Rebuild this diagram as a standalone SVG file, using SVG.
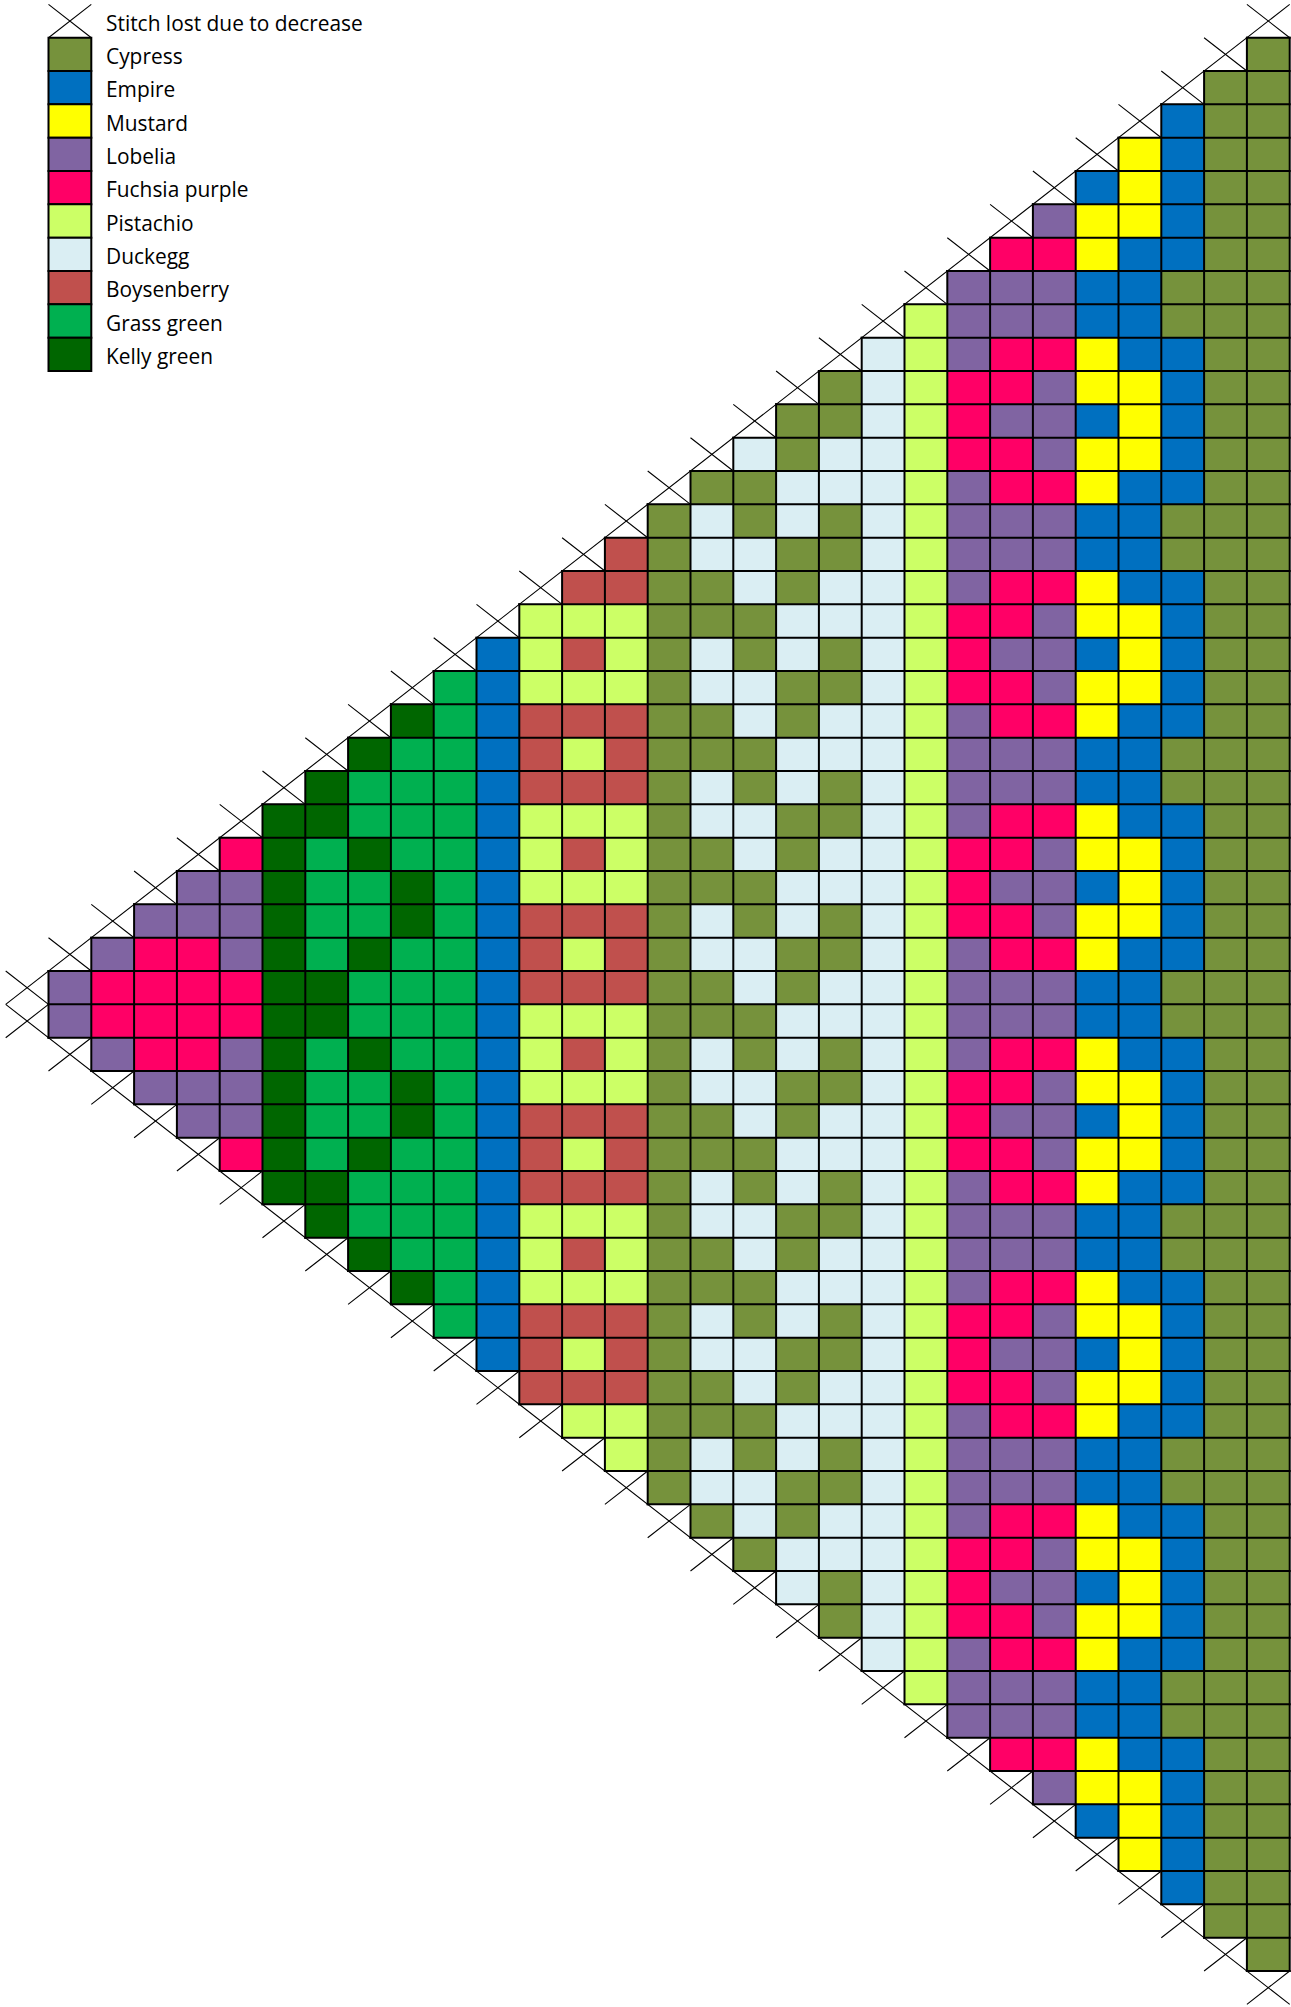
<svg xmlns="http://www.w3.org/2000/svg" width="1291" height="2007" viewBox="0 0 1291 2007">
<style>
.C{fill:#76923C}.E{fill:#0070C0}.M{fill:#FFFF00}.L{fill:#8064A2}.F{fill:#FF0066}
.P{fill:#CCFF66}.D{fill:#DAEEF3}.B{fill:#C0504D}.G{fill:#00B050}.K{fill:#006600}
.grid{fill:none;stroke:#000;stroke-width:2;stroke-linecap:square}
.lg{stroke:#000;stroke-width:2}
.x{fill:none;stroke:#000;stroke-width:1.1}
text{font-family:"Open Sans","Liberation Sans",sans-serif;font-size:20.9px;fill:#000}
</style>
<rect width="1291" height="2007" fill="#fff"/>
<g id="chart" transform="matrix(42.8 0 0 33.33333 48.5 37.7)">
<g id="col-27-28"><rect class="C" x="28" y="0" width="1" height="58"/><rect class="C" x="27" y="1" width="1" height="56"/></g>
<g id="col-26"><rect class="E" x="26" y="2" width="1" height="54"/>
<rect class="C" x="26" y="7" width="1" height="2"/><rect class="C" x="26" y="14" width="1" height="2"/><rect class="C" x="26" y="21" width="1" height="2"/><rect class="C" x="26" y="28" width="1" height="2"/><rect class="C" x="26" y="35" width="1" height="2"/><rect class="C" x="26" y="42" width="1" height="2"/><rect class="C" x="26" y="49" width="1" height="2"/></g>
<g id="col-25"><rect class="E" x="25" y="3" width="1" height="52"/>
<rect class="M" x="25" y="3" width="1" height="3"/><rect class="M" x="25" y="10" width="1" height="3"/><rect class="M" x="25" y="17" width="1" height="3"/><rect class="M" x="25" y="24" width="1" height="3"/><rect class="M" x="25" y="31" width="1" height="3"/><rect class="M" x="25" y="38" width="1" height="3"/><rect class="M" x="25" y="45" width="1" height="3"/><rect class="M" x="25" y="52" width="1" height="3"/></g>
<g id="col-24"><rect class="M" x="24" y="4" width="1" height="50"/>
<rect class="E" x="24" y="7" width="1" height="2"/><rect class="E" x="24" y="14" width="1" height="2"/><rect class="E" x="24" y="21" width="1" height="2"/><rect class="E" x="24" y="28" width="1" height="2"/><rect class="E" x="24" y="35" width="1" height="2"/><rect class="E" x="24" y="42" width="1" height="2"/><rect class="E" x="24" y="49" width="1" height="2"/>
<rect class="E" x="24" y="4" width="1" height="1"/><rect class="E" x="24" y="11" width="1" height="1"/><rect class="E" x="24" y="18" width="1" height="1"/><rect class="E" x="24" y="25" width="1" height="1"/><rect class="E" x="24" y="32" width="1" height="1"/><rect class="E" x="24" y="39" width="1" height="1"/><rect class="E" x="24" y="46" width="1" height="1"/><rect class="E" x="24" y="53" width="1" height="1"/></g>
<g id="col-23"><rect class="L" x="23" y="5" width="1" height="48"/>
<rect class="F" x="23" y="6" width="1" height="1"/><rect class="F" x="23" y="9" width="1" height="1"/><rect class="F" x="23" y="13" width="1" height="1"/><rect class="F" x="23" y="16" width="1" height="1"/><rect class="F" x="23" y="20" width="1" height="1"/><rect class="F" x="23" y="23" width="1" height="1"/><rect class="F" x="23" y="27" width="1" height="1"/><rect class="F" x="23" y="30" width="1" height="1"/><rect class="F" x="23" y="34" width="1" height="1"/><rect class="F" x="23" y="37" width="1" height="1"/><rect class="F" x="23" y="41" width="1" height="1"/><rect class="F" x="23" y="44" width="1" height="1"/><rect class="F" x="23" y="48" width="1" height="1"/><rect class="F" x="23" y="51" width="1" height="1"/></g>
<g id="col-22"><rect class="F" x="22" y="6" width="1" height="46"/>
<rect class="L" x="22" y="7" width="1" height="2"/><rect class="L" x="22" y="14" width="1" height="2"/><rect class="L" x="22" y="21" width="1" height="2"/><rect class="L" x="22" y="28" width="1" height="2"/><rect class="L" x="22" y="35" width="1" height="2"/><rect class="L" x="22" y="42" width="1" height="2"/><rect class="L" x="22" y="49" width="1" height="2"/>
<rect class="L" x="22" y="11" width="1" height="1"/><rect class="L" x="22" y="18" width="1" height="1"/><rect class="L" x="22" y="25" width="1" height="1"/><rect class="L" x="22" y="32" width="1" height="1"/><rect class="L" x="22" y="39" width="1" height="1"/><rect class="L" x="22" y="46" width="1" height="1"/></g>
<g id="col-21"><rect class="L" x="21" y="7" width="1" height="44"/>
<rect class="F" x="21" y="10" width="1" height="3"/><rect class="F" x="21" y="17" width="1" height="3"/><rect class="F" x="21" y="24" width="1" height="3"/><rect class="F" x="21" y="31" width="1" height="3"/><rect class="F" x="21" y="38" width="1" height="3"/><rect class="F" x="21" y="45" width="1" height="3"/></g>
<g id="col-20"><rect class="P" x="20" y="8" width="1" height="42"/></g>
<g id="col-19"><rect class="D" x="19" y="9" width="1" height="40"/></g>
<g id="col-18"><rect class="C" x="18" y="10" width="1" height="38"/>
<rect class="D" x="18" y="12" width="1" height="2"/><rect class="D" x="18" y="16" width="1" height="2"/><rect class="D" x="18" y="20" width="1" height="2"/><rect class="D" x="18" y="24" width="1" height="2"/><rect class="D" x="18" y="28" width="1" height="2"/><rect class="D" x="18" y="32" width="1" height="2"/><rect class="D" x="18" y="36" width="1" height="2"/><rect class="D" x="18" y="40" width="1" height="2"/><rect class="D" x="18" y="44" width="1" height="2"/></g>
<g id="col-17"><rect class="C" x="17" y="11" width="1" height="36"/>
<rect class="D" x="17" y="13" width="1" height="2"/><rect class="D" x="17" y="17" width="1" height="2"/><rect class="D" x="17" y="21" width="1" height="2"/><rect class="D" x="17" y="25" width="1" height="2"/><rect class="D" x="17" y="29" width="1" height="2"/><rect class="D" x="17" y="33" width="1" height="2"/><rect class="D" x="17" y="37" width="1" height="2"/><rect class="D" x="17" y="41" width="1" height="2"/><rect class="D" x="17" y="45" width="1" height="2"/></g>
<g id="col-16"><rect class="C" x="16" y="12" width="1" height="34"/>
<rect class="D" x="16" y="12" width="1" height="1"/><rect class="D" x="16" y="15" width="1" height="2"/><rect class="D" x="16" y="19" width="1" height="2"/><rect class="D" x="16" y="23" width="1" height="2"/><rect class="D" x="16" y="27" width="1" height="2"/><rect class="D" x="16" y="31" width="1" height="2"/><rect class="D" x="16" y="35" width="1" height="2"/><rect class="D" x="16" y="39" width="1" height="2"/><rect class="D" x="16" y="43" width="1" height="2"/></g>
<g id="col-15"><rect class="C" x="15" y="13" width="1" height="32"/>
<rect class="D" x="15" y="14" width="1" height="2"/><rect class="D" x="15" y="18" width="1" height="2"/><rect class="D" x="15" y="22" width="1" height="2"/><rect class="D" x="15" y="26" width="1" height="2"/><rect class="D" x="15" y="30" width="1" height="2"/><rect class="D" x="15" y="34" width="1" height="2"/><rect class="D" x="15" y="38" width="1" height="2"/><rect class="D" x="15" y="42" width="1" height="2"/></g>
<g id="col-14"><rect class="C" x="14" y="14" width="1" height="30"/></g>
<g id="col-13"><rect class="P" x="13" y="15" width="1" height="28"/>
<rect class="B" x="13" y="15" width="1" height="2"/><rect class="B" x="13" y="20" width="1" height="3"/><rect class="B" x="13" y="26" width="1" height="3"/><rect class="B" x="13" y="32" width="1" height="3"/><rect class="B" x="13" y="38" width="1" height="3"/></g>
<g id="col-12"><rect class="P" x="12" y="16" width="1" height="26"/>
<rect class="B" x="12" y="16" width="1" height="1"/><rect class="B" x="12" y="18" width="1" height="1"/><rect class="B" x="12" y="20" width="1" height="1"/><rect class="B" x="12" y="22" width="1" height="1"/><rect class="B" x="12" y="24" width="1" height="1"/><rect class="B" x="12" y="26" width="1" height="1"/><rect class="B" x="12" y="28" width="1" height="1"/><rect class="B" x="12" y="30" width="1" height="1"/><rect class="B" x="12" y="32" width="1" height="1"/><rect class="B" x="12" y="34" width="1" height="1"/><rect class="B" x="12" y="36" width="1" height="1"/><rect class="B" x="12" y="38" width="1" height="1"/><rect class="B" x="12" y="40" width="1" height="1"/></g>
<g id="col-11"><rect class="P" x="11" y="17" width="1" height="24"/>
<rect class="B" x="11" y="20" width="1" height="3"/><rect class="B" x="11" y="26" width="1" height="3"/><rect class="B" x="11" y="32" width="1" height="3"/><rect class="B" x="11" y="38" width="1" height="3"/></g>
<g id="col-10"><rect class="E" x="10" y="18" width="1" height="22"/></g>
<g id="col-9"><rect class="G" x="9" y="19" width="1" height="20"/></g>
<g id="col-8"><rect class="G" x="8" y="20" width="1" height="18"/>
<rect class="K" x="8" y="20" width="1" height="1"/><rect class="K" x="8" y="25" width="1" height="2"/><rect class="K" x="8" y="31" width="1" height="2"/><rect class="K" x="8" y="37" width="1" height="1"/></g>
<g id="col-7"><rect class="G" x="7" y="21" width="1" height="16"/>
<rect class="K" x="7" y="21" width="1" height="1"/><rect class="K" x="7" y="24" width="1" height="1"/><rect class="K" x="7" y="27" width="1" height="1"/><rect class="K" x="7" y="30" width="1" height="1"/><rect class="K" x="7" y="33" width="1" height="1"/><rect class="K" x="7" y="36" width="1" height="1"/></g>
<g id="col-6"><rect class="G" x="6" y="22" width="1" height="14"/>
<rect class="K" x="6" y="22" width="1" height="2"/><rect class="K" x="6" y="28" width="1" height="2"/><rect class="K" x="6" y="34" width="1" height="2"/></g>
<g id="col-5"><rect class="K" x="5" y="23" width="1" height="12"/></g>
<g id="col-4"><rect class="L" x="4" y="24" width="1" height="10"/>
<rect class="F" x="4" y="24" width="1" height="1"/><rect class="F" x="4" y="28" width="1" height="2"/><rect class="F" x="4" y="33" width="1" height="1"/></g>
<g id="col-3"><rect class="L" x="3" y="25" width="1" height="8"/><rect class="F" x="3" y="27" width="1" height="4"/></g>
<g id="col-2"><rect class="L" x="2" y="26" width="1" height="6"/><rect class="F" x="2" y="27" width="1" height="4"/></g>
<g id="col-1"><rect class="L" x="1" y="27" width="1" height="4"/><rect class="F" x="1" y="28" width="1" height="2"/></g>
<g id="col-0"><rect class="L" x="0" y="28" width="1" height="2"/></g>
<g id="grid-lines">
<path class="grid" vector-effect="non-scaling-stroke" d="M28 0H29M27 1H29M26 2H29M25 3H29M24 4H29M23 5H29M22 6H29M21 7H29M20 8H29M19 9H29M18 10H29M17 11H29M16 12H29M15 13H29M14 14H29M13 15H29M12 16H29M11 17H29M10 18H29M9 19H29M8 20H29M7 21H29M6 22H29M5 23H29M4 24H29M3 25H29M2 26H29M1 27H29M0 28H29M0 29H29M0 30H29M1 31H29M2 32H29M3 33H29M4 34H29M5 35H29M6 36H29M7 37H29M8 38H29M9 39H29M10 40H29M11 41H29M12 42H29M13 43H29M14 44H29M15 45H29M16 46H29M17 47H29M18 48H29M19 49H29M20 50H29M21 51H29M22 52H29M23 53H29M24 54H29M25 55H29M26 56H29M27 57H29M28 58H29"/>
<path class="grid" vector-effect="non-scaling-stroke" d="M0 28V30M1 27V31M2 26V32M3 25V33M4 24V34M5 23V35M6 22V36M7 21V37M8 20V38M9 19V39M10 18V40M11 17V41M12 16V42M13 15V43M14 14V44M15 13V45M16 12V46M17 11V47M18 10V48M19 9V49M20 8V50M21 7V51M22 6V52M23 5V53M24 4V54M25 3V55M26 2V56M27 1V57M28 0V58M29 0V58"/>
</g>
<g id="decrease-marks">
<path class="x" vector-effect="non-scaling-stroke" d="M-1 29L29 -1M-1 29L29 59"/>
<path class="x" vector-effect="non-scaling-stroke" d="M28 -1l1 1M27 0l1 1M26 1l1 1M25 2l1 1M24 3l1 1M23 4l1 1M22 5l1 1M21 6l1 1M20 7l1 1M19 8l1 1M18 9l1 1M17 10l1 1M16 11l1 1M15 12l1 1M14 13l1 1M13 14l1 1M12 15l1 1M11 16l1 1M10 17l1 1M9 18l1 1M8 19l1 1M7 20l1 1M6 21l1 1M5 22l1 1M4 23l1 1M3 24l1 1M2 25l1 1M1 26l1 1M0 27l1 1M-1 28l1 1"/>
<path class="x" vector-effect="non-scaling-stroke" d="M-1 30l1 -1M0 31l1 -1M1 32l1 -1M2 33l1 -1M3 34l1 -1M4 35l1 -1M5 36l1 -1M6 37l1 -1M7 38l1 -1M8 39l1 -1M9 40l1 -1M10 41l1 -1M11 42l1 -1M12 43l1 -1M13 44l1 -1M14 45l1 -1M15 46l1 -1M16 47l1 -1M17 48l1 -1M18 49l1 -1M19 50l1 -1M20 51l1 -1M21 52l1 -1M22 53l1 -1M23 54l1 -1M24 55l1 -1M25 56l1 -1M26 57l1 -1M27 58l1 -1M28 59l1 -1"/>
</g>
<g id="legend-swatches">
<path class="x" vector-effect="non-scaling-stroke" d="M0 -1L1 0M1 -1L0 0"/>
<rect class="C lg" vector-effect="non-scaling-stroke" x="0" y="0" width="1" height="1"/>
<rect class="E lg" vector-effect="non-scaling-stroke" x="0" y="1" width="1" height="1"/>
<rect class="M lg" vector-effect="non-scaling-stroke" x="0" y="2" width="1" height="1"/>
<rect class="L lg" vector-effect="non-scaling-stroke" x="0" y="3" width="1" height="1"/>
<rect class="F lg" vector-effect="non-scaling-stroke" x="0" y="4" width="1" height="1"/>
<rect class="P lg" vector-effect="non-scaling-stroke" x="0" y="5" width="1" height="1"/>
<rect class="D lg" vector-effect="non-scaling-stroke" x="0" y="6" width="1" height="1"/>
<rect class="B lg" vector-effect="non-scaling-stroke" x="0" y="7" width="1" height="1"/>
<rect class="G lg" vector-effect="non-scaling-stroke" x="0" y="8" width="1" height="1"/>
<rect class="K lg" vector-effect="non-scaling-stroke" x="0" y="9" width="1" height="1"/>
</g>
</g>
<g id="legend-labels">
<text x="106" y="30.7">Stitch lost due to decrease</text>
<text x="106" y="64">Cypress</text>
<text x="106" y="97.3">Empire</text>
<text x="106" y="130.7">Mustard</text>
<text x="106" y="164">Lobelia</text>
<text x="106" y="197.3">Fuchsia purple</text>
<text x="106" y="230.7">Pistachio</text>
<text x="106" y="264">Duckegg</text>
<text x="106" y="297.3">Boysenberry</text>
<text x="106" y="330.7">Grass green</text>
<text x="106" y="364">Kelly green</text>
</g>
</svg>
